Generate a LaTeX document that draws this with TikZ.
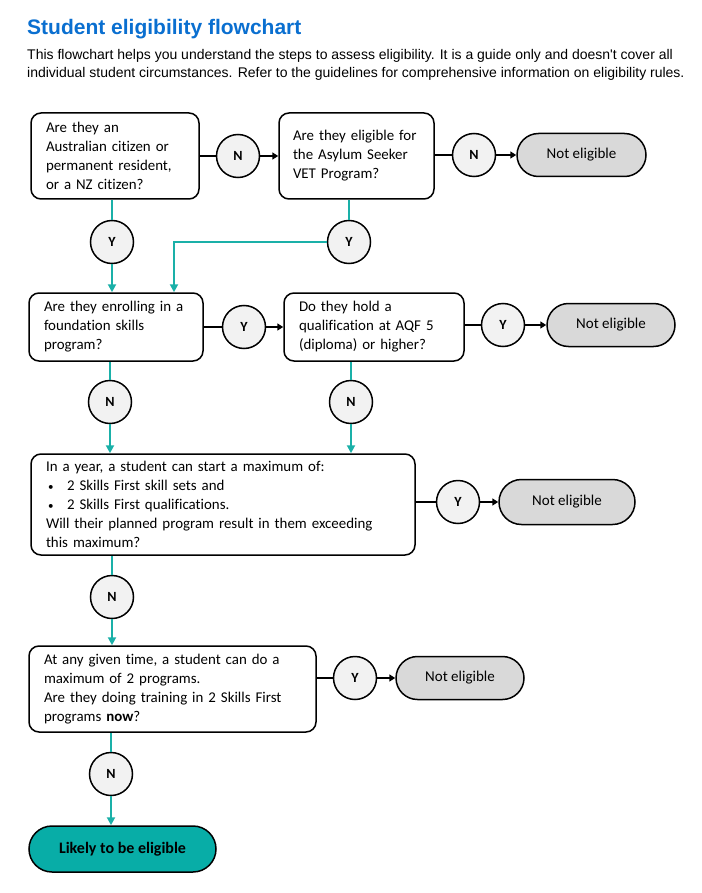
\documentclass[tikz,border=0pt]{standalone}
\usepackage{fontspec}
\setmainfont{Carlito}[Ligatures=NoCommon]
\newfontfamily\arialfont{Liberation Sans}
\usepackage{xcolor}
\usepackage{tikz}
\usetikzlibrary{arrows.meta,shapes.misc}

\definecolor{flowteal}{HTML}{1AB0A8}
\definecolor{pillteal}{HTML}{08ADA7}
\definecolor{titleblue}{HTML}{0A6FD0}
\definecolor{greyfill}{HTML}{D9D9D9}
\definecolor{circfill}{HTML}{F2F2F2}

\newcommand{\listdot}{\makebox[21pt][l]{\hspace*{2pt}\raisebox{0.5pt}{\fontsize{11}{11}\selectfont\textbullet}}}

\tikzset{
  question/.style={draw=black, line width=1.5pt, rounded corners=10pt, align=left,
    inner xsep=15pt, inner ysep=0pt, font=\fontsize{14.9}{19}\selectfont},
  answer/.style={circle, draw=black, line width=1.5pt, fill=circfill, minimum size=43pt,
    inner sep=0pt, font=\fontsize{14}{14}\selectfont\bfseries},
  noteligible/.style={rounded rectangle, draw=black, line width=1.5pt, fill=greyfill,
    minimum width=129pt, minimum height=43pt, inner sep=0pt, font=\fontsize{15}{19}\selectfont},
  yesline/.style={flowteal, line width=2.2pt},
  yesarrow/.style={flowteal, line width=2.2pt, -{Triangle[width=8pt,length=8pt]}},
  sideline/.style={black, line width=2.2pt},
  sidearrow/.style={black, line width=2.2pt, -{Triangle[width=7pt,length=6pt]}},
}

\begin{document}
\begin{tikzpicture}[x=1pt, y=-1pt]
        \useasboundingbox (0, 0) rectangle (701, 893);

        % heading
        \node[anchor=base west, inner sep=0pt, text=titleblue,
              font=\arialfont\bfseries\fontsize{21}{25}\selectfont] (title) at (27, 35) {Student eligibility flowchart};
        \node[anchor=base west, inner sep=0pt, font=\arialfont\fontsize{14}{16}\selectfont] (intro1) at (27, 60)
              {This flowchart helps you understand the steps to assess eligibility. It is a guide only and doesn't cover all};
        \node[anchor=base west, inner sep=0pt, font=\arialfont\fontsize{14}{16}\selectfont] (intro2) at (27, 78)
              {individual student circumstances. Refer to the guidelines for comprehensive information on eligibility rules.};

        % questions
        \node[question, text width=138pt, minimum height=86pt] (citizen) at (115, 156)
              {Are they an\\Australian citizen or\\permanent resident,\\or a NZ citizen?};
        \node[question, inner xsep=14pt, text width=127pt, minimum height=86pt] (asylum) at (356.5, 156)
              {Are they eligible for\\the Asylum Seeker\\VET Program?};
        \node[question, text width=144pt, minimum height=68pt] (foundation) at (116, 327)
              {Are they enrolling in a\\foundation skills\\program?};
        \node[question, text width=150pt, minimum height=68pt] (aqf) at (374, 327)
              {Do they hold a\\qualification at AQF 5\\(diploma) or higher?};
        \node[question, text width=354pt, minimum height=101pt] (peryear) at (223, 504.5)
              {In a year, a student can start a maximum of:\\
               \listdot 2 Skills First skill sets and\\
               \listdot 2 Skills First qualifications.\\
               Will their planned program result in them exceeding\\this maximum?};
        \node[question, text width=257pt, minimum height=86pt] (anytime) at (172.5, 689)
              {At any given time, a student can do a\\maximum of 2 programs.\\
               Are they doing training in 2 Skills First\\programs \textbf{now}?};

        % answers
        \node[answer] (n1) at (238, 156) {N};
        \node[answer] (n2) at (474, 155) {N};
        \node[answer] (y1) at (112, 242) {Y};
        \node[answer] (y2) at (349, 242) {Y};
        \node[answer] (y3) at (244, 327) {Y};
        \node[answer] (y4) at (503, 325) {Y};
        \node[answer] (n3) at (110, 402) {N};
        \node[answer] (n4) at (351, 402) {N};
        \node[answer] (y5) at (458, 502) {Y};
        \node[answer] (n5) at (112, 597) {N};
        \node[answer] (y6) at (355, 678) {Y};
        \node[answer] (n6) at (111, 774) {N};

        % outcomes
        \node[noteligible] (out1) at (581.5, 155) {Not eligible};
        \node[noteligible, minimum width=128pt] (out2) at (611, 325) {Not eligible};
        \node[noteligible, minimum width=136pt, minimum height=45pt] (out3) at (567, 502) {Not eligible};
        \node[noteligible, minimum width=128pt] (out4) at (460, 678) {Not eligible};
        \node[rounded rectangle, draw=black, line width=1.5pt, fill=pillteal, minimum width=187pt,
              minimum height=46pt, inner sep=0pt, font=\fontsize{16}{19}\selectfont\bfseries] (likely) at (122.5, 849)
              {Likely to be eligible};

        \coordinate (bend) at (174, 242);

        % sideways
        \draw[sideline] (citizen.east |- n1) -- (n1);
        \draw[sidearrow] (n1) -- (asylum.west |- n1);
        \draw[sideline] (asylum.east |- n2) -- (n2);
        \draw[sidearrow] (n2) -- (out1);
        \draw[sideline] (foundation.east |- y3) -- (y3);
        \draw[sidearrow] (y3) -- (aqf.west |- y3);
        \draw[sideline] (aqf.east |- y4) -- (y4);
        \draw[sidearrow] (y4) -- (out2);
        \draw[sideline] (peryear.east |- y5) -- (y5);
        \draw[sidearrow] (y5) -- (out3);
        \draw[sideline] (anytime.east |- y6) -- (y6);
        \draw[sidearrow] (y6) -- (out4);

        % downwards
        \draw[yesline] (citizen.south -| y1) -- (y1);
        \draw[yesarrow] (y1) -- (y1 |- foundation.north);
        \draw[yesline] (asylum.south -| y2) -- (y2);
        \draw[yesarrow] (y2) -- (bend) -- (bend |- foundation.north);
        \draw[yesline] (foundation.south -| n3) -- (n3);
        \draw[yesarrow] (n3) -- (n3 |- peryear.north);
        \draw[yesline] (aqf.south -| n4) -- (n4);
        \draw[yesarrow] (n4) -- (n4 |- peryear.north);
        \draw[yesline] (peryear.south -| n5) -- (n5);
        \draw[yesarrow] (n5) -- (n5 |- anytime.north);
        \draw[yesline] (anytime.south -| n6) -- (n6);
        \draw[yesarrow] (n6) -- (n6 |- likely.north);
\end{tikzpicture}
\end{document}
